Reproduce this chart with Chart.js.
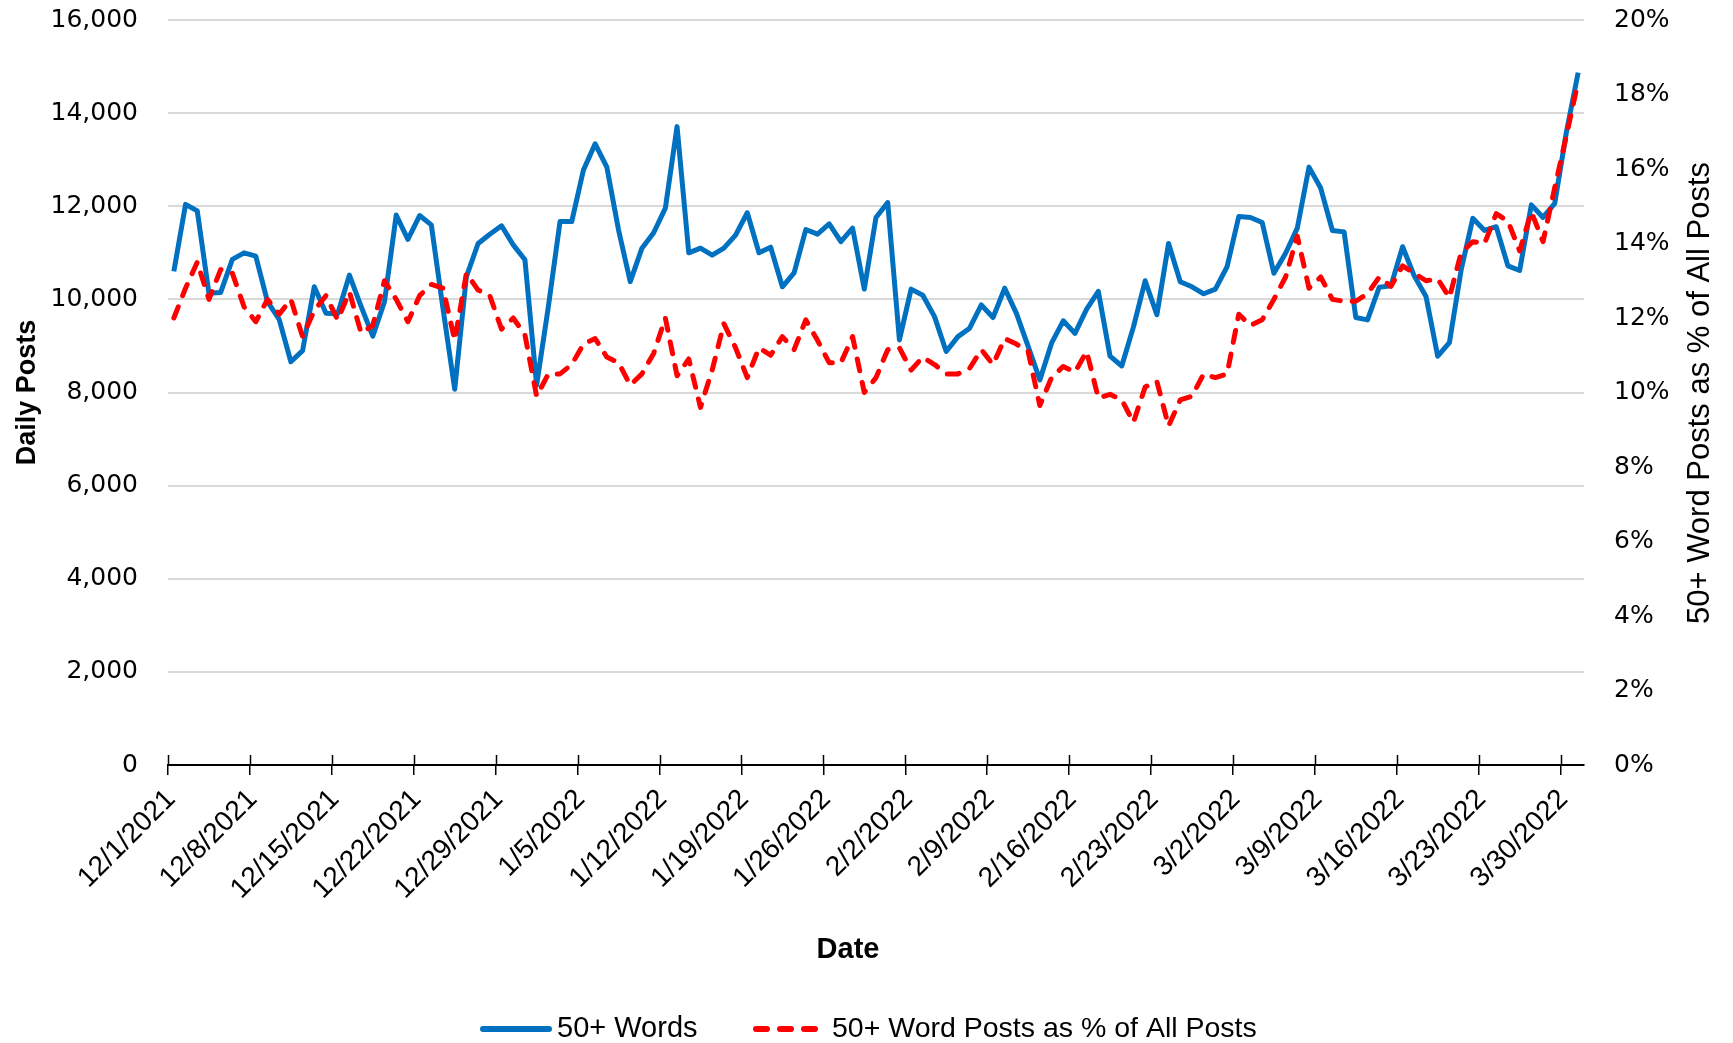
<!DOCTYPE html>
<html lang="en">
<head>
<meta charset="UTF-8">
<script src="https://cdn.jsdelivr.net/npm/chart.js@4"></script>
<title>50+ Word Posts</title>
<style>
  html, body { margin: 0; padding: 0; background: #fff; overflow: hidden; }
</style>
</head>
<body>
<canvas id="grafico" width="1733" height="1043"></canvas>
<script>
// fechas de las marcas del eje X (una cada 7 dias, empezando el 12/1/2021)
const tickLabels = ['12/1/2021', '12/8/2021', '12/15/2021', '12/22/2021', '12/29/2021',
  '1/5/2022', '1/12/2022', '1/19/2022', '1/26/2022', '2/2/2022', '2/9/2022', '2/16/2022',
  '2/23/2022', '3/2/2022', '3/9/2022', '3/16/2022', '3/23/2022', '3/30/2022'];

// posts diarios con 50+ palabras, 12/1/2021 .. 3/31/2022
const words50 = [
  10600, 12040, 11900, 10130, 10150, 10860, 11000, 10930, 9950, 9570,
  8660, 8900, 10270, 9700, 9690, 10520, 9850, 9210, 9950, 11810,
  11290, 11800, 11600, 9800, 8070, 10490, 11200, 11400, 11580, 11170,
  10850, 8160, 9840, 11670, 11670, 12780, 13340, 12840, 11490, 10380,
  11100, 11430, 11960, 13710, 11000, 11100, 10950, 11100, 11380, 11860,
  11000, 11120, 10270, 10570, 11500, 11400, 11620, 11240, 11530, 10220,
  11760, 12080, 9130, 10220, 10090, 9630, 8880, 9200, 9380, 9880,
  9610, 10240, 9700, 8990, 8270, 9060, 9540, 9270, 9790, 10170,
  8780, 8570, 9410, 10400, 9670, 11200, 10380, 10270, 10120, 10220,
  10700, 11780, 11760, 11650, 10560, 10990, 11530, 12840, 12390, 11480,
  11450, 9610, 9560, 10260, 10290, 11130, 10500, 10060, 8780, 9070,
  10630, 11740, 11480, 11560, 10720, 10620, 12030, 11760, 12060, 13600,
  14870
];

// % de posts de 50+ palabras sobre el total
const pctOfAll = [
  12.0, 12.8, 13.5, 12.5, 13.3, 13.2, 12.3, 11.9, 12.5, 12.1,
  12.5, 11.5, 12.2, 12.6, 11.95, 12.7, 11.6, 11.8, 13.0, 12.5,
  11.9, 12.6, 12.9, 12.8, 11.4, 13.2, 12.75, 12.6, 11.7, 12.0,
  11.55, 9.9, 10.5, 10.5, 10.75, 11.3, 11.45, 10.95, 10.8, 10.2,
  10.5, 11.05, 12.0, 10.45, 10.9, 9.6, 10.6, 11.85, 11.2, 10.4,
  11.2, 11.0, 11.5, 11.15, 11.95, 11.4, 10.8, 10.8, 11.5, 10.0,
  10.4, 11.15, 11.2, 10.6, 10.95, 10.75, 10.5, 10.5, 10.65, 11.15,
  10.75, 11.45, 11.3, 11.1, 9.65, 10.4, 10.7, 10.55, 11.1, 9.85,
  9.95, 9.8, 9.2, 10.15, 10.3, 9.1, 9.8, 9.9, 10.5, 10.4,
  10.5, 12.1, 11.8, 11.95, 12.5, 13.1, 14.2, 12.8, 13.1, 12.5,
  12.45, 12.45, 12.65, 13.1, 12.85, 13.4, 13.2, 13.0, 13.05, 12.55,
  13.75, 14.05, 14.0, 14.8, 14.6, 13.8, 14.85, 14.05, 15.5, 16.9,
  18.35
];

const fuente = "'Liberation Sans', Arial, sans-serif";
const transparente = 'rgba(0,0,0,0)';

// cada dia se dibuja en el centro de su intervalo
const toPoints = arr => arr.map((v, i) => ({ x: i + 0.5, y: v }));

// titulos de ejes, marcas del eje X por encima de la linea y leyenda
const extras = {
  id: 'extras',
  afterDraw(chart) {
    const ctx = chart.ctx;
    const xs = chart.scales.x;
    const base = chart.chartArea.bottom;
    ctx.save();

    ctx.strokeStyle = '#000';
    ctx.lineWidth = 1.5;
    xs.ticks.forEach(t => {
      const px = Math.round(xs.getPixelForValue(t.value)) + 0.5;
      ctx.beginPath();
      ctx.moveTo(px, base - 10);
      ctx.lineTo(px, base);
      ctx.stroke();
    });

    ctx.fillStyle = '#000';
    ctx.textBaseline = 'middle';
    ctx.textAlign = 'center';
    ctx.font = 'bold 29px ' + fuente;
    ctx.fillText('Date', 848, 950);

    ctx.save();
    ctx.translate(1700, 393);
    ctx.rotate(-Math.PI / 2);
    ctx.font = '31px ' + fuente;
    ctx.fillText('50+ Word Posts as % of All Posts', 0, 0);
    ctx.restore();

    // leyenda
    const y = 1029;
    ctx.textAlign = 'left';
    ctx.lineWidth = 6;
    ctx.lineCap = 'round';

    ctx.strokeStyle = '#0070C0';
    ctx.beginPath();
    ctx.moveTo(483, y);
    ctx.lineTo(549, y);
    ctx.stroke();
    ctx.font = '29px ' + fuente;
    ctx.fillText(chart.data.datasets[0].label, 557, y);

    ctx.strokeStyle = '#FF0000';
    ctx.setLineDash([11, 13]);
    ctx.beginPath();
    ctx.moveTo(756, y);
    ctx.lineTo(817, y);
    ctx.stroke();
    ctx.setLineDash([]);
    ctx.font = '28.5px ' + fuente;
    ctx.fillText(chart.data.datasets[1].label, 832, y);

    ctx.restore();
  }
};

new Chart(document.getElementById('grafico'), {
  type: 'line',
  data: {
    datasets: [{
      label: '50+ Words',
      data: toPoints(words50),
      yAxisID: 'y',
      borderColor: '#0070C0',
      borderWidth: 5,
      borderJoinStyle: 'round',
      pointRadius: 0,
      order: 1
    }, {
      label: '50+ Word Posts as % of All Posts',
      data: toPoints(pctOfAll),
      yAxisID: 'y1',
      borderColor: '#FF0000',
      borderWidth: 5,
      borderDash: [12, 12],
      borderCapStyle: 'round',
      borderJoinStyle: 'round',
      pointRadius: 0,
      order: 0
    }]
  },
  options: {
    responsive: false,
    animation: false,
    devicePixelRatio: 1,
    layout: { padding: { top: 20, left: 0, right: 0, bottom: 78 } },
    plugins: {
      tooltip: { enabled: false },
      legend: { display: false }
    },
    scales: {
      x: {
        type: 'linear',
        min: 0,
        max: 121,
        afterBuildTicks: s => { s.ticks = tickLabels.map((_, k) => ({ value: k * 7 })); },
        afterFit: s => { s.height = 200; },
        ticks: {
          autoSkip: false,
          maxRotation: 45,
          minRotation: 45,
          padding: 8,
          labelOffset: 3,
          color: '#000',
          font: { family: fuente, size: 28 },
          callback: v => tickLabels[Math.round(v / 7)]
        },
        grid: { drawOnChartArea: false, drawTicks: true, tickLength: 10, color: '#000', lineWidth: 1.5 },
        border: { display: true, color: '#000', width: 2 }
      },
      y: {
        position: 'left',
        min: 0,
        max: 16000,
        afterFit: s => { s.width = 168; },
        ticks: {
          stepSize: 2000,
          padding: 3,
          color: '#000',
          font: { family: 'DejaVu Sans', size: 25 },
          callback: v => v.toLocaleString('en-US')
        },
        grid: {
          drawTicks: true,
          tickLength: 27,
          tickColor: transparente,
          color: c => (c.tick && c.tick.value === 0 ? transparente : '#D9D9D9'),
          lineWidth: 2
        },
        border: { display: false },
        title: {
          display: true,
          text: 'Daily Posts',
          color: '#000',
          font: { family: fuente, size: 27, weight: 'bold', lineHeight: 1.2 },
          padding: { top: 11, bottom: 0 }
        }
      },
      y1: {
        position: 'right',
        min: 0,
        max: 20,
        afterFit: s => { s.width = 149; },
        ticks: {
          stepSize: 2,
          padding: 3,
          color: '#000',
          font: { family: 'DejaVu Sans', size: 25 },
          callback: v => v + '%'
        },
        grid: { drawOnChartArea: false, drawTicks: true, tickLength: 27, tickColor: transparente },
        border: { display: false }
      }
    }
  },
  plugins: [extras]
});
</script>
</body>
</html>
